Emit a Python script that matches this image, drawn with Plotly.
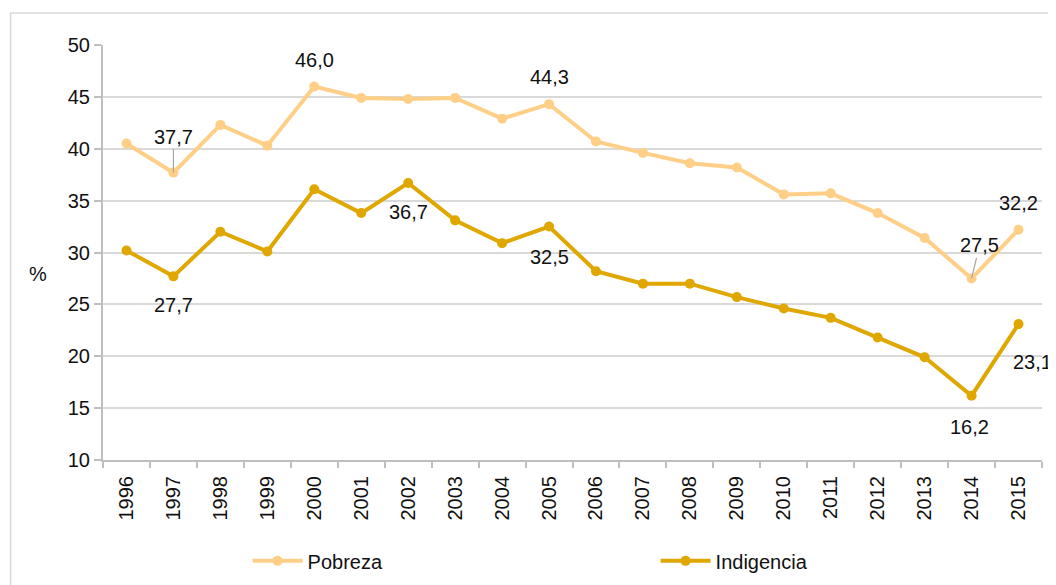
import plotly.graph_objects as go

years = [str(y) for y in range(1996, 2016)]
pobreza = [40.5, 37.7, 42.3, 40.3, 46.0, 44.9, 44.8, 44.9, 42.9, 44.3,
           40.7, 39.6, 38.6, 38.2, 35.6, 35.7, 33.8, 31.4, 27.5, 32.2]
indigencia = [30.2, 27.7, 32.0, 30.1, 36.1, 33.8, 36.7, 33.1, 30.9, 32.5,
              28.2, 27.0, 27.0, 25.7, 24.6, 23.7, 21.8, 19.9, 16.2, 23.1]
y_ticks = [10, 15, 20, 25, 30, 35, 40, 45, 50]

C_POB = "#FFCF87"
C_IND = "#DFA700"
FONT = "Liberation Sans, Arial, sans-serif"
TXT = "#111111"
FS = 20

fig = go.Figure()
fig.add_trace(go.Scatter(x=years, y=pobreza, name="Pobreza", mode="lines+markers",
                         line=dict(color=C_POB, width=4), marker=dict(size=10, color=C_POB)))
fig.add_trace(go.Scatter(x=years, y=indigencia, name="Indigencia", mode="lines+markers",
                         line=dict(color=C_IND, width=4), marker=dict(size=10, color=C_IND)))

def fmt(v):
    return f"{v:.1f}".replace(".", ",")

# labels: (series, year index, dx, dy in px (screen, positive down), arrow)
labels = [
    (pobreza, 1, 0, -36, True),
    (pobreza, 4, 0, -27, False),
    (pobreza, 9, 0, -27, False),
    (pobreza, 18, 8, -33, True),
    (pobreza, 19, 0, -27, False),
    (indigencia, 1, 0, 29, False),
    (indigencia, 6, 0, 29, False),
    (indigencia, 9, 0, 30, False),
    (indigencia, 18, -2, 31, False),
    (indigencia, 19, 14, 38, False),
]
for series, i, dx, dy, arrow in labels:
    if arrow:
        fig.add_annotation(x=i, y=series[i], xref="x", yref="y", text=fmt(series[i]),
                           showarrow=True, arrowhead=0, arrowwidth=1.2, arrowcolor="#a6a6a6",
                           ax=dx, ay=dy, standoff=0, startstandoff=0,
                           font=dict(size=FS, color=TXT, family=FONT))
    else:
        fig.add_annotation(x=i, y=series[i], xref="x", yref="y", text=fmt(series[i]),
                           showarrow=False, xshift=dx, yshift=-dy,
                           font=dict(size=FS, color=TXT, family=FONT))

# "%" axis label
fig.add_annotation(x=-0.0806, y=0.448, xref="paper", yref="paper", text="%", showarrow=False,
                   font=dict(size=FS, color=TXT, family=FONT))

# outer chart border
fig.add_shape(type="rect", xref="paper", yref="paper", x0=-0.0984, y0=-0.4, x1=1.2, y1=1.077,
              line=dict(color="#d9d9d9", width=1.5), fillcolor="rgba(0,0,0,0)", layer="below")

# page body has an 8px margin, so the figure is 8px smaller and offset
fig.update_layout(
    width=1048, height=577,
    margin=dict(l=94.5, r=13.5, t=37, b=125, autoexpand=False),
    paper_bgcolor="white", plot_bgcolor="white",
    font=dict(family=FONT, size=FS, color=TXT),
    showlegend=True,
    legend=dict(orientation="h", x=0.154, y=-0.243, xanchor="left", yanchor="middle",
                entrywidth=343, entrywidthmode="pixels", font=dict(size=FS, color=TXT, family=FONT),
                itemwidth=50),
)
fig.update_xaxes(type="category", range=[-0.5, 19.5], showgrid=False, showline=True,
                 linecolor="#bfbfbf", linewidth=2, automargin=False,
                 ticks="outside", tickson="boundaries", ticklen=6, tickcolor="#bfbfbf", tickwidth=2,
                 ticklabelstandoff=6,
                 tickangle=-90, tickfont=dict(size=FS, color=TXT, family=FONT))
fig.update_yaxes(range=[10, 50], tickvals=y_ticks, showgrid=True, gridcolor="#d9d9d9", gridwidth=2,
                 showline=True, linecolor="#bfbfbf", linewidth=2, ticks="outside", ticklen=7,
                 tickcolor="#bfbfbf", tickwidth=2, zeroline=False, automargin=False,
                 tickfont=dict(size=FS, color=TXT, family=FONT))

fig.write_html("out.html")
